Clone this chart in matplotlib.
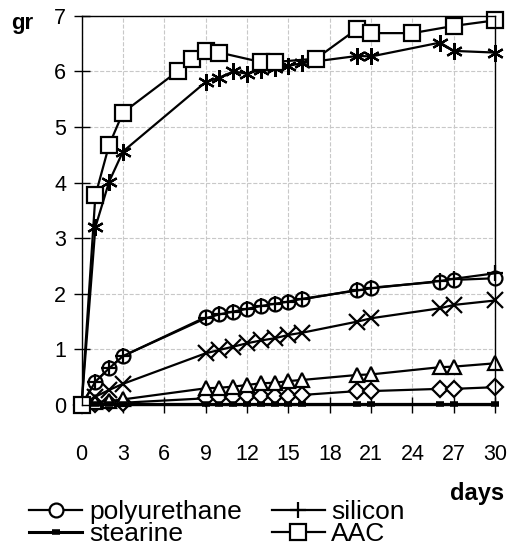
import matplotlib
matplotlib.use("Agg")
from matplotlib import pyplot as plt

plt.rcParams['font.family'] = ['Liberation Sans', 'DejaVu Sans']

# days of measurement
days = [0, 1, 2, 3, 9, 10, 11, 12, 13, 14, 15, 16, 20, 21, 26, 27, 30]
days_aac = [0, 1, 2, 3, 7, 8, 9, 10, 13, 14, 17, 20, 21, 24, 27, 30]

polyurethane = [0, 0.42, 0.66, 0.88, 1.58, 1.64, 1.68, 1.72, 1.78, 1.82, 1.85, 1.90,
                2.07, 2.11, 2.22, 2.25, 2.28]
silicon = [0, 0.42, 0.66, 0.88, 1.56, 1.63, 1.68, 1.73, 1.78, 1.82, 1.86, 1.91,
           2.06, 2.10, 2.23, 2.27, 2.37]
stearine = [0, 0.01, 0.01, 0.01, 0.01, 0.01, 0.01, 0.01, 0.01, 0.01, 0.01, 0.01,
            0.01, 0.01, 0.01, 0.01, 0.01]
aac = [0, 3.77, 4.68, 5.26, 6.01, 6.22, 6.36, 6.34, 6.17, 6.17, 6.23, 6.77,
       6.69, 6.69, 6.82, 6.92]
cross = [0, 0.15, 0.27, 0.38, 0.93, 0.99, 1.05, 1.11, 1.16, 1.20, 1.26, 1.30,
         1.50, 1.56, 1.74, 1.80, 1.88]
triangle = [0, 0.05, 0.07, 0.10, 0.30, 0.31, 0.33, 0.36, 0.39, 0.40, 0.43, 0.45,
            0.54, 0.55, 0.68, 0.69, 0.75]
diamond = [0, 0.02, 0.03, 0.04, 0.12, 0.15, 0.15, 0.16, 0.16, 0.17, 0.17, 0.18,
           0.25, 0.25, 0.29, 0.29, 0.32]
asterisk = [0, 3.20, 4.02, 4.56, 5.81, 5.89, 6.00, 5.96, 6.03, 6.06, 6.10, 6.15,
            6.28, 6.27, 6.52, 6.37, 6.34]

xticks = list(range(0, 31, 3))
yticks = list(range(0, 8))

fig = plt.figure(figsize=(5.10, 5.48), dpi=100)
ax = fig.add_axes([0.160, 0.261, 0.811, 0.710])

common = dict(color='black', lw=1.6, mew=1.6, mec='black', clip_on=False)

ax.plot(days, diamond, marker='D', ms=8, mfc='white', **common)
ax.plot(days, triangle, marker='^', ms=10, mfc='white', **common)
ax.plot(days, cross, marker='x', ms=11, **common)
ax.plot(days, asterisk, marker=(6, 2, 0), ms=12, **common)
ax.plot(days, stearine, marker='_', ms=6, mew=4, color='black', lw=2.2, clip_on=False,
        label='stearine')
ax.plot(days, polyurethane, marker='o', ms=10, mfc='white', label='polyurethane', **common)
ax.plot(days, silicon, marker='+', ms=11, label='silicon', **common)
ax.plot(days_aac, aac, marker='s', ms=11, mfc='white', label='AAC', **common)

ax.set_xlim(0, 30)
ax.set_ylim(0, 7)
ax.set_xticks(xticks)
ax.set_yticks(yticks)
ax.grid(True, color='#c8c8c8', ls='--', lw=0.8)
ax.set_axisbelow(True)
ax.tick_params(axis='both', direction='inout', length=12, width=1, labelsize=15.5)
ax.tick_params(axis='x', pad=22)
ax.tick_params(axis='y', pad=5)
for s in ax.spines.values():
    s.set_linewidth(1)

fig.text(11 / 510, 1 - 29 / 548, 'gr', fontsize=16, fontweight='bold', va='baseline')
fig.text(504 / 510, 1 - 482 / 548, 'days', fontsize=17, fontweight='bold',
         ha='right', va='top')

h, l = ax.get_legend_handles_labels()
order = [l.index('polyurethane'), l.index('stearine'), l.index('silicon'), l.index('AAC')]
leg = fig.legend([h[i] for i in order], [l[i] for i in order], ncol=2,
                 loc='upper left', bbox_to_anchor=(11 / 510, 1 - 482 / 548),
                 frameon=True, fancybox=False, edgecolor='white', framealpha=1,
                 fontsize=19, handlelength=2.0, handletextpad=0.25,
                 labelspacing=-0.1, columnspacing=1.15, borderpad=0.2)

fig.savefig('out.png', dpi=100)
